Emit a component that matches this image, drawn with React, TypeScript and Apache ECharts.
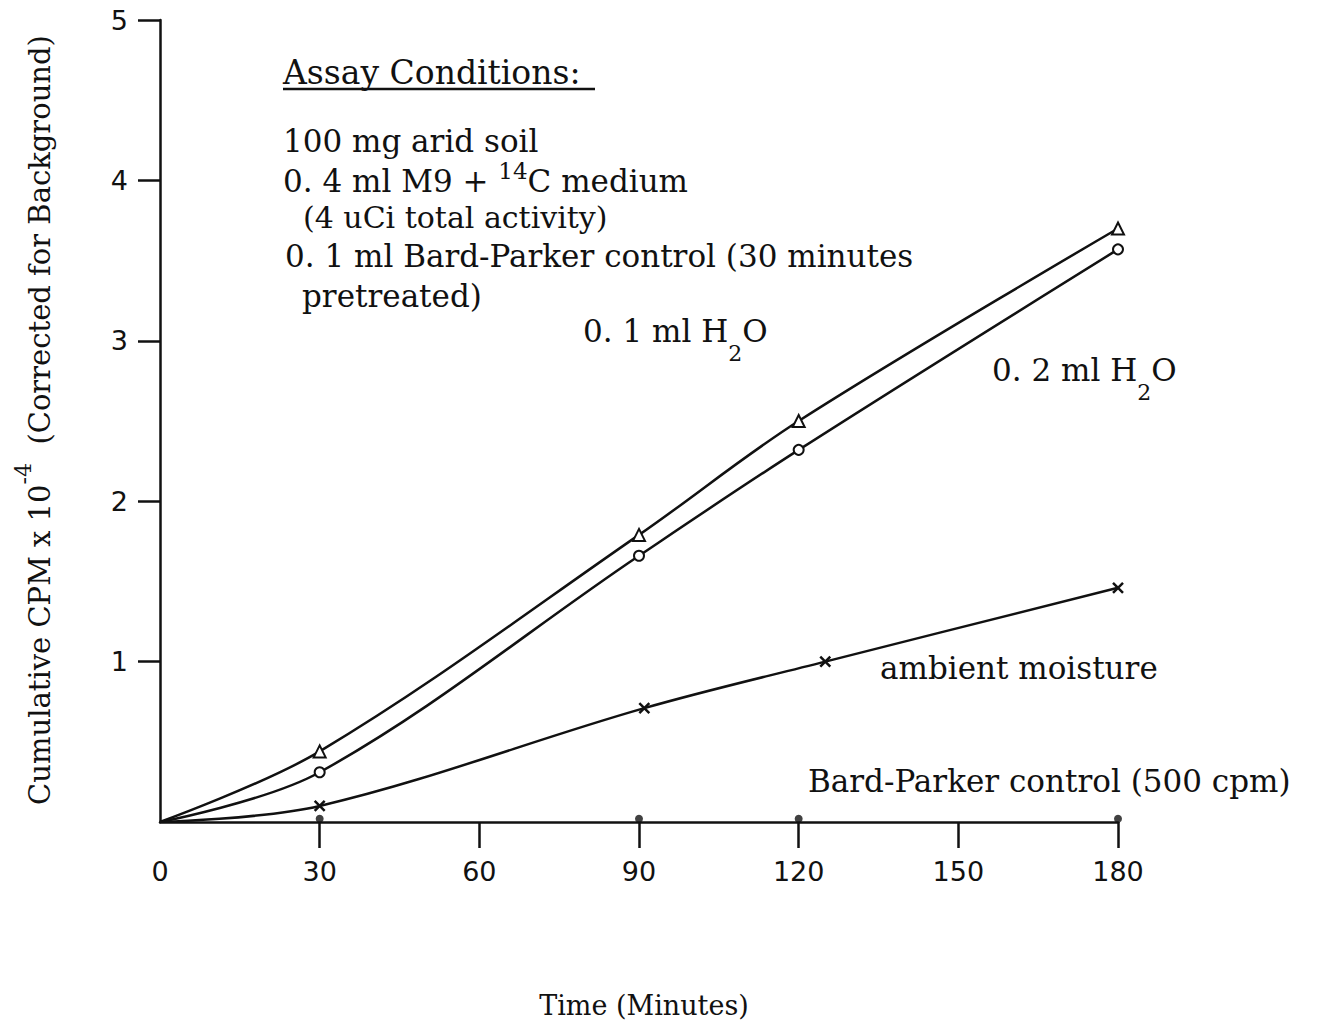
import React, { useEffect, useRef } from "react";
import * as echarts from "echarts";

// Sampling times (minutes) and cumulative counts (CPM x 10^-4)
const timePoints = [0, 30, 90, 120, 180];
const water01 = [0, 0.44, 1.79, 2.5, 3.7];
const water02 = [0, 0.31, 1.66, 2.32, 3.57];
const ambientTimes = [0, 30, 91, 125, 180];
const ambient = [0, 0.1, 0.71, 1.0, 1.46];
const controlTimes = [30, 90, 120, 180];
const control = [0.02, 0.02, 0.02, 0.02];

const xTicks = [30, 60, 90, 120, 150, 180];
const xLabels = [0, 30, 60, 90, 120, 150, 180];
const yTicks = [1, 2, 3, 4, 5];

const INK = "#111";
const SERIF = '"DejaVu Serif", serif';
const SANS = '"DejaVu Sans", sans-serif';

function withOrigin(xs: number[], ys: number[]) {
  return xs.map((x, i) =>
    i === 0 ? { value: [x, ys[i]], symbol: "none" } : [x, ys[i]]
  );
}

function plainText(text: string, x: number, y: number, size = 30) {
  return {
    type: "text",
    x,
    y,
    style: {
      text,
      fontFamily: SERIF,
      fontSize: size,
      fill: INK,
      align: "left",
      verticalAlign: "middle",
    },
  };
}

function richText(text: string, x: number, y: number, rich: any) {
  return {
    type: "text",
    x,
    y,
    style: { text, rich, fill: INK, align: "left", verticalAlign: "middle" },
  };
}

const subRich = {
  m: { fontFamily: SERIF, fontSize: 31, lineHeight: 66, fill: INK },
  s: { fontFamily: SERIF, fontSize: 22, lineHeight: 22, verticalAlign: "bottom", fill: INK },
};

const supRich = {
  m: { fontFamily: SERIF, fontSize: 31, lineHeight: 44, fill: INK },
  s: { fontFamily: SERIF, fontSize: 23, lineHeight: 22, verticalAlign: "top", fill: INK },
};

export default function App() {
  const ref = useRef<HTMLDivElement>(null);

  useEffect(() => {
    if (!ref.current) return;
    const chart = echarts.init(ref.current, null, { renderer: "svg" });

    const lineBase = {
      type: "line",
      smooth: 0.35,
      lineStyle: { color: INK, width: 2.5 },
      emphasis: { disabled: true },
    };

    chart.setOption({
      animation: false,
      backgroundColor: "#fff",
      grid: { left: 160, right: 220, top: 20, bottom: 202 },
      xAxis: {
        type: "value",
        min: 0,
        max: 180,
        interval: 30,
        splitLine: { show: false },
        axisLine: { show: true, lineStyle: { color: INK, width: 2.5 } },
        axisTick: {
          show: true,
          inside: false,
          length: 26,
          customValues: xTicks,
          lineStyle: { color: INK, width: 2.5 },
        },
        axisLabel: {
          customValues: xLabels,
          margin: 36,
          fontFamily: SANS,
          fontSize: 27,
          color: INK,
        },
      },
      yAxis: {
        type: "value",
        min: 0,
        max: 5,
        interval: 1,
        splitLine: { show: false },
        axisLine: { show: true, lineStyle: { color: INK, width: 2.5 } },
        axisTick: {
          show: true,
          inside: false,
          length: 22,
          customValues: yTicks,
          lineStyle: { color: INK, width: 2.5 },
        },
        axisLabel: {
          customValues: yTicks,
          margin: 32,
          fontFamily: SANS,
          fontSize: 27,
          color: INK,
        },
      },
      series: [
        {
          ...lineBase,
          name: "0.1 ml H2O",
          data: withOrigin(timePoints, water01),
          symbol: "emptyTriangle",
          symbolSize: 12,
          itemStyle: { color: INK, borderColor: INK, borderWidth: 2.5 },
        },
        {
          ...lineBase,
          name: "0.2 ml H2O",
          data: withOrigin(timePoints, water02),
          symbol: "emptyCircle",
          symbolSize: 10,
          itemStyle: { color: INK, borderColor: INK, borderWidth: 2.5 },
        },
        {
          ...lineBase,
          name: "ambient moisture",
          data: withOrigin(ambientTimes, ambient),
          symbol: "path://M0,0L10,10M10,0L0,10",
          symbolSize: 10,
          itemStyle: { color: INK, borderColor: INK, borderWidth: 2.5 },
        },
        {
          type: "scatter",
          name: "Bard-Parker control",
          data: controlTimes.map((t, i) => [t, control[i]]),
          symbol: "circle",
          symbolSize: 8,
          itemStyle: { color: INK },
          emphasis: { disabled: true },
        },
      ],
      graphic: [
        // Y axis title, reading upward
        {
          type: "text",
          x: 40,
          y: 420,
          rotation: Math.PI / 2,
          style: {
            text: "{m|Cumulative CPM x 10}{s|-4}{m|  (Corrected for Background)}",
            align: "center",
            verticalAlign: "middle",
            rich: {
              m: { fontFamily: SERIF, fontSize: 29, lineHeight: 56, fill: INK },
              s: { fontFamily: SERIF, fontSize: 22, lineHeight: 24, verticalAlign: "top", fill: INK },
            },
          },
        },
        // X axis title
        {
          type: "text",
          x: 644,
          y: 1005,
          style: {
            text: "Time (Minutes)",
            fontFamily: SERIF,
            fontSize: 27,
            fill: INK,
            align: "center",
            verticalAlign: "middle",
          },
        },
        // Assay conditions block
        plainText("Assay Conditions:", 283, 72, 33),
        {
          type: "line",
          shape: { x1: 283, y1: 89, x2: 595, y2: 89 },
          style: { stroke: INK, lineWidth: 2.5 },
        },
        plainText("100 mg arid soil", 283, 141, 31),
        richText("{m|0. 4 ml M9 + }{s|14}{m|C medium}", 283, 181, supRich),
        plainText("(4 uCi total activity)", 303, 217, 30),
        plainText("0. 1 ml Bard-Parker control (30 minutes", 285, 256, 31),
        plainText("pretreated)", 302, 296, 31),
        // Series labels
        richText("{m|0. 1 ml H}{s|2}{m|O}", 583, 331, subRich),
        richText("{m|0. 2 ml H}{s|2}{m|O}", 992, 370, subRich),
        plainText("ambient moisture", 880, 668, 31),
        plainText("Bard-Parker control (500 cpm)", 808, 781, 31),
      ],
    });

    return () => chart.dispose();
  }, []);

  return (
    <div
      ref={ref}
      style={{ position: "fixed", left: 0, top: 0, width: 1338, height: 1024, background: "#fff" }}
    />
  );
}
